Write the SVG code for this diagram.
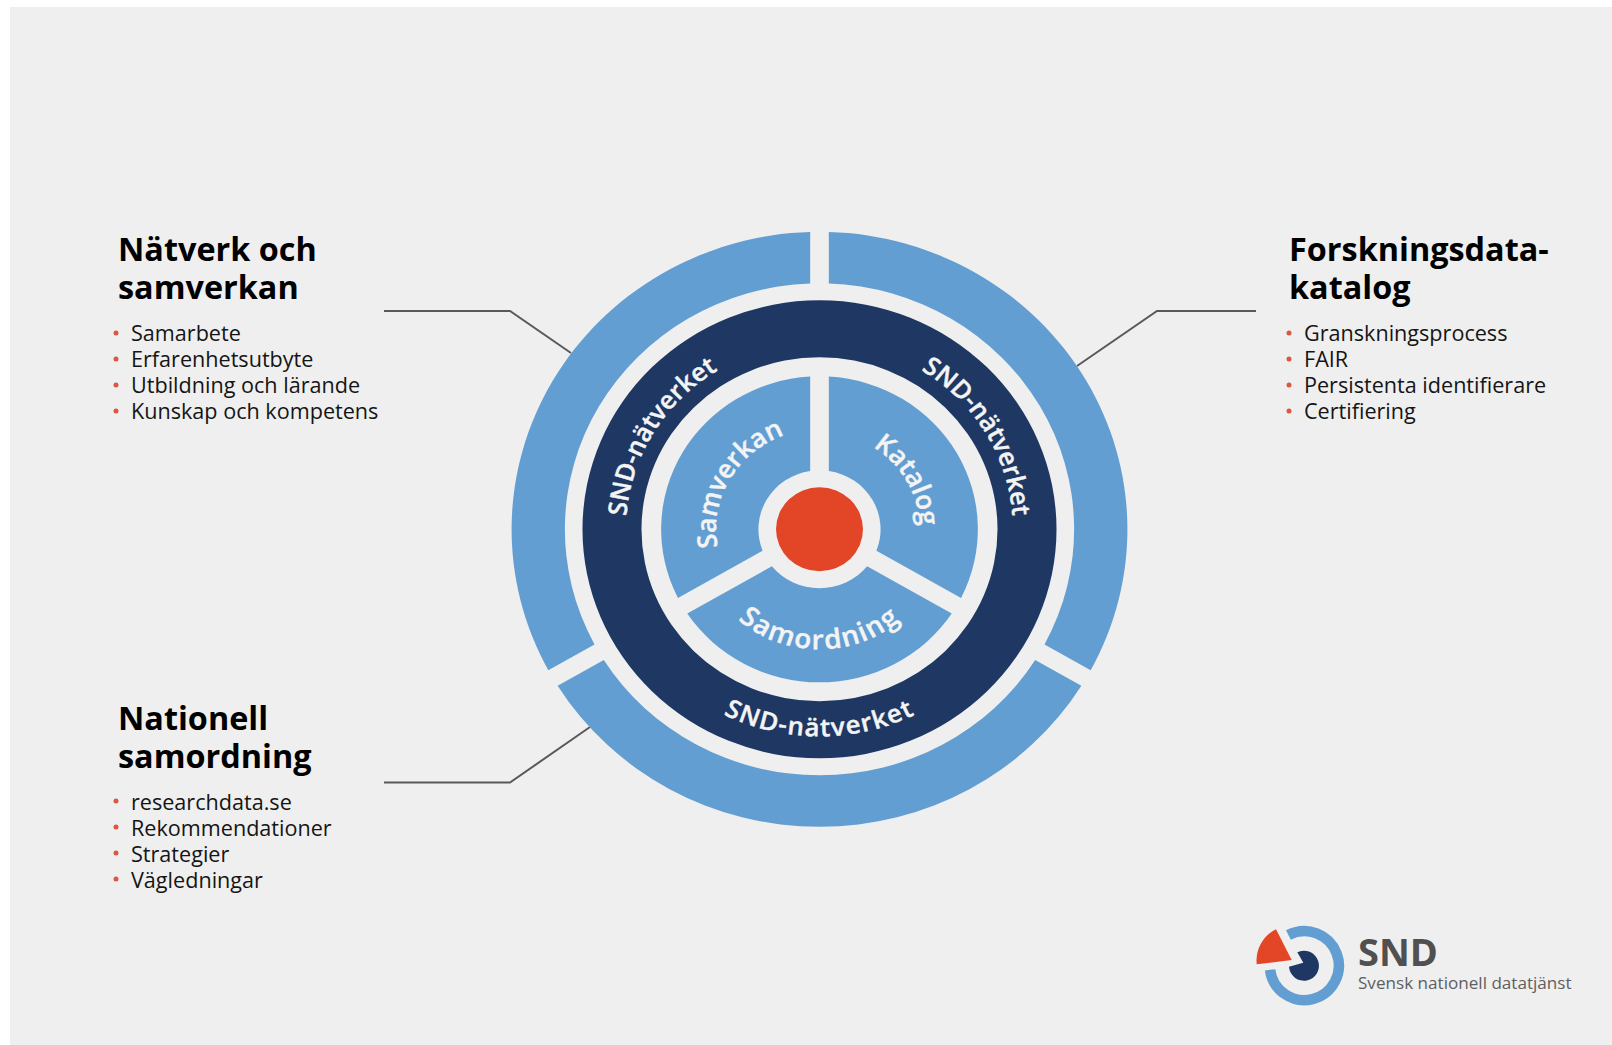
<svg xmlns="http://www.w3.org/2000/svg" width="1612" height="1045" viewBox="0 0 1612 1045">
<style>
text{font-family:"Open Sans","Noto Sans","Liberation Sans",sans-serif}
.h{font-size:32.4px;font-weight:700;fill:#000}
.li{font-size:21.6px;fill:#151515}
.b{fill:#d9583f}
.o{fill:#639ed3}
.n{fill:#1e3763}
.w{fill:#f4f4f4;font-weight:600;stroke:#f4f4f4;stroke-width:.4}
.nw{font-size:25px}
.iw{font-size:26px}
.nb{letter-spacing:1.2px}
.ib{font-size:27px;letter-spacing:1.4px}
.c{fill:none;stroke:#58595b;stroke-width:2}
</style>
<defs>
<path id="pL" d="M-161.9 93.5A187 187 0 0 1 0 -187"/>
<path id="pR" d="M0 -187A187 187 0 0 1 161.9 93.5"/>
<path id="pB" d="M-179.3 103.5A207 207 0 0 0 179.3 103.5"/>
<path id="iL" d="M-86.6 50A100 100 0 0 1 0 -100"/>
<path id="iR" d="M0 -97A97 97 0 0 1 84 48.5"/>
<path id="iB" d="M-103.9 60A120 120 0 0 0 103.9 60"/>
</defs>
<rect width="1612" height="1045" fill="#fff"/>
<rect x="10" y="7" width="1602" height="1038" fill="#efefef"/>
<g id="connectors">
<path class="c" d="M384 311H510L571 353"/>
<path class="c" d="M1256 311H1157L1077 366"/>
<path class="c" d="M384 782.5H510L590 727"/>
</g>
<g id="wheel" transform="translate(819.5 529.3) scale(1.035 1)">
<g id="outer-natverk"><path class="o" d="M-9 -297.36A297.5 297.5 0 0 0 -262.02 140.89L-217.4 115.13A246 246 0 0 1 -9 -245.84Z"/></g>
<g id="outer-katalog"><path class="o" d="M9 -297.36A297.5 297.5 0 0 1 262.02 140.89L217.4 115.13A246 246 0 0 0 9 -245.84Z"/></g>
<g id="outer-samordning"><path class="o" d="M253.02 156.47A297.5 297.5 0 0 1 -253.02 156.47L-208.4 130.71A246 246 0 0 0 208.4 130.71Z"/></g>
<g id="snd-natverket">
<path class="n" fill-rule="evenodd" d="M-229 0A229 229 0 1 1 229 0A229 229 0 1 1 -229 0ZM-172 0A172 172 0 1 0 172 0A172 172 0 1 0 -172 0Z"/>
<text class="w nw" text-anchor="middle"><textPath href="#pL" startOffset="51%">SND-nätverket</textPath></text>
<text class="w nw" text-anchor="middle"><textPath href="#pR" startOffset="49%">SND-nätverket</textPath></text>
<text class="w nw nb" text-anchor="middle"><textPath href="#pB" startOffset="50%">SND-nätverket</textPath></text>
</g>
<g id="samverkan">
<path class="o" d="M-9 -152.73A153 153 0 0 0 -136.77 68.58L-55 21.37A59 59 0 0 1 -9 -58.31Z"/>
<text class="w iw" text-anchor="middle"><textPath href="#iL" startOffset="50%">Samverkan</textPath></text>
</g>
<g id="katalog">
<path class="o" d="M9 -152.73A153 153 0 0 1 136.77 68.58L55 21.37A59 59 0 0 0 9 -58.31Z"/>
<text class="w iw" text-anchor="middle"><textPath href="#iR" startOffset="50%">Katalog</textPath></text>
</g>
<g id="samordning">
<path class="o" d="M127.77 84.16A153 153 0 0 1 -127.77 84.16L-46 36.95A59 59 0 0 0 46 36.95Z"/>
<text class="w ib" text-anchor="middle"><textPath href="#iB" startOffset="50%">Samordning</textPath></text>
</g>
<circle id="core" r="42" fill="#e34527"/>
</g>
<g id="list-natverk">
<text class="h" x="118" y="261">Nätverk och</text>
<text class="h" x="118" y="299">samverkan</text>
<circle class="b" cx="116" cy="333" r="2.5"/><text class="li" x="131" y="341">Samarbete</text>
<circle class="b" cx="116" cy="359" r="2.5"/><text class="li" x="131" y="367">Erfarenhetsutbyte</text>
<circle class="b" cx="116" cy="385" r="2.5"/><text class="li" x="131" y="393">Utbildning och lärande</text>
<circle class="b" cx="116" cy="411" r="2.5"/><text class="li" x="131" y="419">Kunskap och kompetens</text>
</g>
<g id="list-katalog">
<text class="h" x="1289" y="261">Forskningsdata-</text>
<text class="h" x="1289" y="299">katalog</text>
<circle class="b" cx="1289" cy="333" r="2.5"/><text class="li" x="1304" y="341">Granskningsprocess</text>
<circle class="b" cx="1289" cy="359" r="2.5"/><text class="li" x="1304" y="367">FAIR</text>
<circle class="b" cx="1289" cy="385" r="2.5"/><text class="li" x="1304" y="393">Persistenta identifierare</text>
<circle class="b" cx="1289" cy="411" r="2.5"/><text class="li" x="1304" y="419">Certifiering</text>
</g>
<g id="list-samordning">
<text class="h" x="118" y="730">Nationell</text>
<text class="h" x="118" y="768">samordning</text>
<circle class="b" cx="116" cy="801" r="2.5"/><text class="li" x="131" y="809.5">researchdata.se</text>
<circle class="b" cx="116" cy="827" r="2.5"/><text class="li" x="131" y="835.5">Rekommendationer</text>
<circle class="b" cx="116" cy="853" r="2.5"/><text class="li" x="131" y="861.5">Strategier</text>
<circle class="b" cx="116" cy="879" r="2.5"/><text class="li" x="131" y="887.5">Vägledningar</text>
</g>
<g id="logo">
<path d="M1288.4 935A34.5 34.5 0 1 1 1270.1 969.8" fill="none" stroke="#639ed3" stroke-width="10.5"/>
<path class="n" d="M1297.3 952.3L1303.3 962.7L1289 966.7A15 15 0 1 0 1297.3 952.3Z"/>
<path d="M1291.7 960L1276 929.3A35 35 0 0 0 1256.7 964.3Z" fill="#e34527"/>
<text x="1358" y="965.5" font-size="38" font-weight="700" fill="#505050">SND</text>
<text x="1358" y="989" font-size="17.1" fill="#5f5f5f">Svensk nationell datatjänst</text>
</g>
</svg>
